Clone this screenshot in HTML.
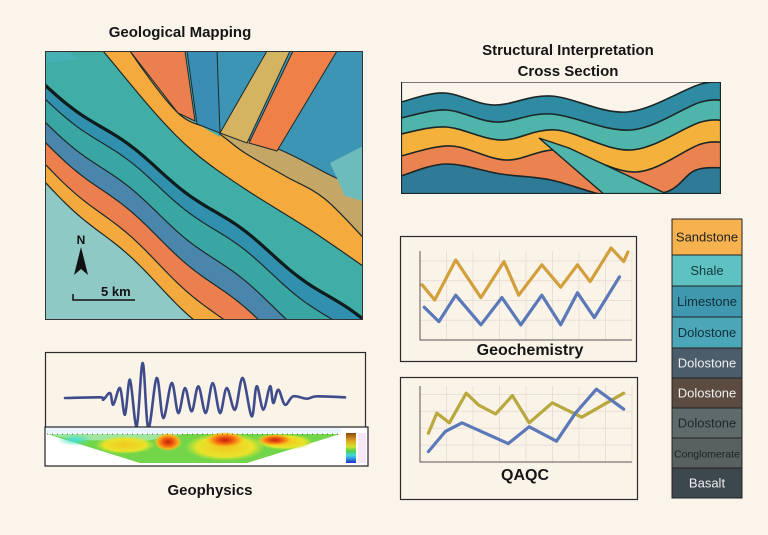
<!DOCTYPE html>
<html><head><meta charset="utf-8">
<style>
html,body{margin:0;padding:0;background:#fbf4eb;}
#root{position:relative;width:768px;height:535px;overflow:hidden;background:#fbf4eb;font-family:"Liberation Sans",sans-serif;}
.t{position:absolute;font-weight:bold;color:#151515;text-align:center;z-index:2;}
svg{position:absolute;left:0;top:0;z-index:1;}
</style></head>
<body>
<div id="root">
<div class="t" style="left:80px;top:24px;width:200px;font-size:15px;">Geological Mapping</div>
<div class="t" style="left:440px;top:40px;width:256px;font-size:15px;line-height:21px;">Structural Interpretation<br>Cross Section</div>
<div class="t" style="left:440px;top:342px;width:180px;font-size:16px;">Geochemistry</div>
<div class="t" style="left:460px;top:467px;width:130px;font-size:16px;">QAQC</div>
<div class="t" style="left:120px;top:482px;width:180px;font-size:15px;">Geophysics</div>
<svg id="svg" width="768" height="535" xmlns="http://www.w3.org/2000/svg">
<defs>
<clipPath id="mapClip"><rect x="0" y="0" width="318" height="269"/></clipPath>
<clipPath id="xsClip"><rect x="0" y="0" width="320" height="112"/></clipPath>
<radialGradient id="gRed" cx="50%" cy="50%" r="50%"><stop offset="0" stop-color="#c4200c"/><stop offset="0.4" stop-color="#f05a10"/><stop offset="0.75" stop-color="#f7b21c"/><stop offset="1" stop-color="#f7d020" stop-opacity="0"/></radialGradient>
<radialGradient id="gYel" cx="50%" cy="50%" r="50%"><stop offset="0" stop-color="#f2c61e"/><stop offset="0.7" stop-color="#e8e42a"/><stop offset="1" stop-color="#d8e830" stop-opacity="0"/></radialGradient>
<radialGradient id="gCy" cx="50%" cy="50%" r="50%"><stop offset="0" stop-color="#3de0e8"/><stop offset="1" stop-color="#50e0b0" stop-opacity="0"/></radialGradient>
<linearGradient id="cbar" x1="0" y1="0" x2="0" y2="1"><stop offset="0" stop-color="#8a4a10"/><stop offset="0.25" stop-color="#e0a020"/><stop offset="0.45" stop-color="#d8e030"/><stop offset="0.6" stop-color="#50d050"/><stop offset="0.75" stop-color="#40d8e0"/><stop offset="1" stop-color="#2030d0"/></linearGradient>
</defs>
</svg>
</div>
<script>
// ---------- chart data ----------
const geoOrangeX=[1,7,17,29,40,47,58,67,75,81,91,97,99];
const geoOrangeY=[69,50,100,53,98,56,94,66,94,73,115,98,110];
const geoBlueX=[2,9,17,29,39,48,58,67,75,83,95];
const geoBlueY=[41,23,56,19,53,19,56,19,59,28,79];
const qaOliveX=[4,8,14,22,28,36,44,52,63,77,97];
const qaOliveY=[36,61,49,86,71,60,83,49,74,56,86];
const qaBlueX=[4,12,20,42,52,65,74,84,97];
const qaBlueY=[13,38,49,23,44,26,61,91,66];
const seisT=[75,180,190,210,220,240,255,270,290,308,325,350,370,395,415,435,455,475,497,518,540,560,585,608,635,650,670,690,700,715,735,760,800,830,915];
const seisAmp=[0,2,-5,15,-20,30,-50,55,-85,105,-90,60,-60,45,-45,30,-40,35,-45,45,-45,30,-35,60,-55,35,-35,35,-15,25,-20,5,-2,5,2];
const legendLabels=["Sandstone","Shale","Limestone","Dolostone","Dolostone","Dolostone","Dolostone","Conglomerate","Basalt"];

const NS="http://www.w3.org/2000/svg";
const svg=document.getElementById('svg');
function mk(tag,attrs,parent){const e=document.createElementNS(NS,tag);for(const k in attrs)e.setAttribute(k,attrs[k]);(parent||svg).appendChild(e);return e;}
function smooth(pts){let d='M'+pts[0][0]+','+pts[0][1];for(let i=0;i<pts.length-1;i++){const p0=pts[i-1]||pts[i],p1=pts[i],p2=pts[i+1],p3=pts[i+2]||p2;
const c1=[p1[0]+(p2[0]-p0[0])/6,p1[1]+(p2[1]-p0[1])/6],c2=[p2[0]-(p3[0]-p1[0])/6,p2[1]-(p3[1]-p1[1])/6];
d+=' C'+c1[0].toFixed(1)+','+c1[1].toFixed(1)+' '+c2[0].toFixed(1)+','+c2[1].toFixed(1)+' '+p2[0].toFixed(1)+','+p2[1].toFixed(1);}return d;}

// ---------- geological map ----------
const map=mk('g',{transform:'translate(45,51)','clip-path':'url(#mapClip)'});


mk('rect',{x:0,y:0,width:318,height:269,fill:'#8ec9c6'},map);
function f(x){return 33+0.745*x+3*Math.sin(x/18);}
function above(d,color){let p=[];for(let x=0;x<=320;x+=4)p.push([x,f(x)+d*(1+x/600)]);
mk('polygon',{points:p.map(q=>q.join(',')).join(' ')+' 320,-10 0,-10',fill:color},map);
mk('path',{d:'M'+p.map(q=>q.join(',')).join(' L'),fill:'none',stroke:'#1d2a2a','stroke-width':1.2},map);}
function aboveCurve(pts,color){const d=smooth(pts);
mk('path',{d:d+' L'+pts[pts.length-1][0]+',-20 L'+pts[0][0]+',-20 Z',fill:color},map);
mk('path',{d:d,fill:'none',stroke:'#1d2a2a','stroke-width':1.2},map);}
above(98,'#f4a93f');above(80,'#ec7f4e');above(58,'#4a86ab');above(38,'#3aa6a3');above(15,'#3190ae');above(0,'#40aea6');
const yLow=[[40,-20],[58,0],[110,62],[150,102],[200,138],[267,180],[325,220]];
const yUp=[[78,-20],[85,0],[133,62],[170,80],[200,102],[240,125],[280,148],[325,194]];
const tUp=[[160,70],[173,80],[233,98],[287,125],[325,142]];
aboveCurve(yLow,'#f5aa3e');
aboveCurve(yUp,'#c4a766');
mk('path',{d:'M60,-20 L150,-20 L175,86 L133,62 L85,0 Z',fill:'#46b0b4'},map);
aboveCurve(tUp,'#3c95b5');
mk('polygon',{points:'85,0 140,0 150,70 133,62',fill:'#ec7f4e',stroke:'#1d2a2a','stroke-width':1},map);
mk('polygon',{points:'142,0 172,0 175,82 152,73',fill:'#3a8db5',stroke:'#1d2a2a','stroke-width':1},map);
mk('polygon',{points:'222,0 245,0 202,92 175,82',fill:'#d4b460',stroke:'#1d2a2a','stroke-width':1},map);
mk('polygon',{points:'248,0 292,0 232,100 204,92',fill:'#ee8048',stroke:'#1d2a2a','stroke-width':1},map);
mk('polygon',{points:'0,0 20,0 35,8 0,12',fill:'#46b0b4'},map);
mk('polygon',{points:'285,112 318,95 318,150 300,145',fill:'#6cbcbc'},map);
const fp=[];for(let x=0;x<=330;x+=4)fp.push([x,f(x)+1]);
const fault=mk('path',{d:'M'+fp.map(q=>q.join(',')).join(' L'),fill:'none',stroke:'#0e1c1c','stroke-width':3.2},map);


mk('rect',{x:0.5,y:0.5,width:317,height:268,fill:'none',stroke:'#333','stroke-width':1},map);
const nt=mk('text',{x:36,y:193,'font-size':12,'font-weight':'bold',fill:'#111','text-anchor':'middle','font-family':'Liberation Sans'},map);nt.textContent='N';


mk('polygon',{points:'36,196 29,224 36,218 43,224',fill:'#111'},map);
mk('path',{d:'M28,243 V249 H90',stroke:'#111','stroke-width':1.5,fill:'none'},map);
const sk=mk('text',{x:56,y:245,'font-size':13,'font-weight':'bold',fill:'#111','font-family':'Liberation Sans'},map);sk.textContent='5 km';



// ---------- cross section ----------
const xs=mk('g',{transform:'translate(401,82)','clip-path':'url(#xsClip)'});


const curves=[
 [[0,20],[43,11],[93,23],[150,14],[226,30],[300,2],[330,2]],
 [[0,36],[45,28],[95,40],[150,32],[230,48],[300,20],[330,20]],
 [[0,52],[45,45],[100,58],[155,48],[230,68],[300,40],[330,40]],
 [[0,74],[50,64],[105,78],[160,68],[235,90],[300,62],[330,62]],
 [[0,94],[45,82],[100,92],[150,98],[210,114],[265,110],[295,88],[330,86]]];
const xcol=['#2e8ba2','#4fb4aa','#f4b13c','#ea8350','#2f7a96'];
curves.forEach((c,i)=>{mk('path',{d:smooth(c)+' L330,130 L0,130 Z',fill:xcol[i],stroke:'#1b2626','stroke-width':1.6},xs);});
mk('polygon',{points:'138,56 168,66 270,114 205,114',fill:'#4fb4aa',stroke:'#1b2626','stroke-width':1.4},xs);
mk('rect',{x:0.5,y:0,width:319,height:111.5,fill:'none',stroke:'#1b2626','stroke-width':1.2},xs);

// ---------- line charts ----------
function panel(x,y,w,h,name){const r=mk('rect',{x:x+0.5,y:y+0.5,width:w,height:h,fill:'#faf3e8',stroke:'#2a2a2a','stroke-width':1.2});

}
function chart(x0,y0,x1,y1,sx,sy,series,name){
 const g=mk('g',{});
 
 
 for(let i=1;i<=8;i++){const gx=x0+i*(x1-x0)/8;mk('line',{x1:gx,y1:y0,x2:gx,y2:y1,stroke:'#eadfd6','stroke-width':1},g);}
 for(let i=1;i<=4;i++){const gy=y1-i*(y1-y0)/4.5;mk('line',{x1:x0,y1:gy,x2:x1,y2:gy,stroke:'#eadfd6','stroke-width':1},g);}
 mk('path',{d:'M'+x0+','+y0+' V'+y1+' H'+x1,fill:'none',stroke:'#555','stroke-width':1},g);
 series.forEach(s=>{const pts=s.xs.map((v,i)=>(sx(v)).toFixed(1)+','+sy(s.ys[i]).toFixed(1));
  const p=mk('polyline',{points:pts.join(' '),fill:'none',stroke:s.color,'stroke-width':3.2,'stroke-linejoin':'round','stroke-linecap':'round'},g);
  
  });
}
panel(400,236,236,125,'geochemistry-panel');
const gx=v=>420+v*2.1, gy=v=>340-v*0.8;
chart(420,251,632,340,gx,gy,[{xs:geoOrangeX,ys:geoOrangeY,color:'#d29f3c',name:'geochem-orange-series'},{xs:geoBlueX,ys:geoBlueY,color:'#5b78b8',name:'geochem-blue-series'}],'geochemistry-chart');
panel(400,377,237,122,'qaqc-panel');
const qx=v=>420+v*2.1, qy=v=>462-v*0.8;
chart(420,386,632,462,qx,qy,[{xs:qaOliveX,ys:qaOliveY,color:'#b8a83e',name:'qaqc-olive-series'},{xs:qaBlueX,ys:qaBlueY,color:'#5b78b8',name:'qaqc-blue-series'}],'qaqc-chart');

// ---------- geophysics ----------
panel(45,352,320,76,'seismic-panel');
const sPts=seisT.map((t,i)=>[40+t/3,398-seisAmp[i]/3]);
const tr=mk('path',{d:smooth(sPts),fill:'none',stroke:'#3e4c8c','stroke-width':2.6,'stroke-linecap':'round'});


const tg=mk('g',{transform:'translate(45,427)'});


mk('rect',{x:0,y:0,width:323,height:39,fill:'#ffffff',stroke:'#222','stroke-width':1.2},tg);
mk('rect',{x:1,y:1,width:295,height:5,fill:'#e8f4ff'},tg);
mk('polygon',{points:'2,7 295,7 202,36 95,36',fill:'#72d54a'},tg);
mk('polygon',{points:'2,7 140,7 100,14 30,13',fill:'#9fe6a0'},tg);
mk('ellipse',{cx:30,cy:13,rx:18,ry:6,fill:'url(#gCy)'},tg);
mk('ellipse',{cx:80,cy:18,rx:30,ry:9,fill:'url(#gYel)'},tg);
mk('ellipse',{cx:180,cy:20,rx:40,ry:14,fill:'url(#gYel)'},tg);
mk('ellipse',{cx:240,cy:15,rx:28,ry:8,fill:'url(#gYel)'},tg);
mk('ellipse',{cx:123,cy:15,rx:14,ry:9,fill:'url(#gRed)'},tg);
mk('ellipse',{cx:180,cy:13,rx:20,ry:8,fill:'url(#gRed)'},tg);
mk('ellipse',{cx:230,cy:13,rx:18,ry:6,fill:'url(#gRed)'},tg);
mk('polyline',{points:'2,7 295,7',stroke:'#333','stroke-width':0.8,'stroke-dasharray':'1 4'},tg);
mk('rect',{x:301,y:6,width:10,height:30,fill:'url(#cbar)'},tg);
mk('rect',{x:313,y:6,width:8,height:30,fill:'#f6e8f6'},tg);

// ---------- legend ----------
const lcol=['#f5b24e','#5ec2c2','#3f98ad','#4ba6b8','#4b5d6a','#5b4b40','#5f6b6b','#58615f','#3d474e'];
const ltxt=['#222','#12383c','#0f2f3a','#10303c','#eee','#eee','#1e2828','#1b2424','#eee'];
const ly=[219,255,286,317,348,378,408,438,468,498];
legendLabels.forEach((lab,i)=>{
 const r=mk('rect',{x:672,y:ly[i],width:70,height:ly[i+1]-ly[i],fill:lcol[i],stroke:'#222','stroke-width':1});
 
 
 const t=mk('text',{x:707,y:(ly[i]+ly[i+1])/2+4.5,'text-anchor':'middle','font-size':lab.length>10?10.5:13,fill:ltxt[i],'font-family':'Liberation Sans'});
 t.textContent=lab;
 
 
});
</script>
</body></html>
